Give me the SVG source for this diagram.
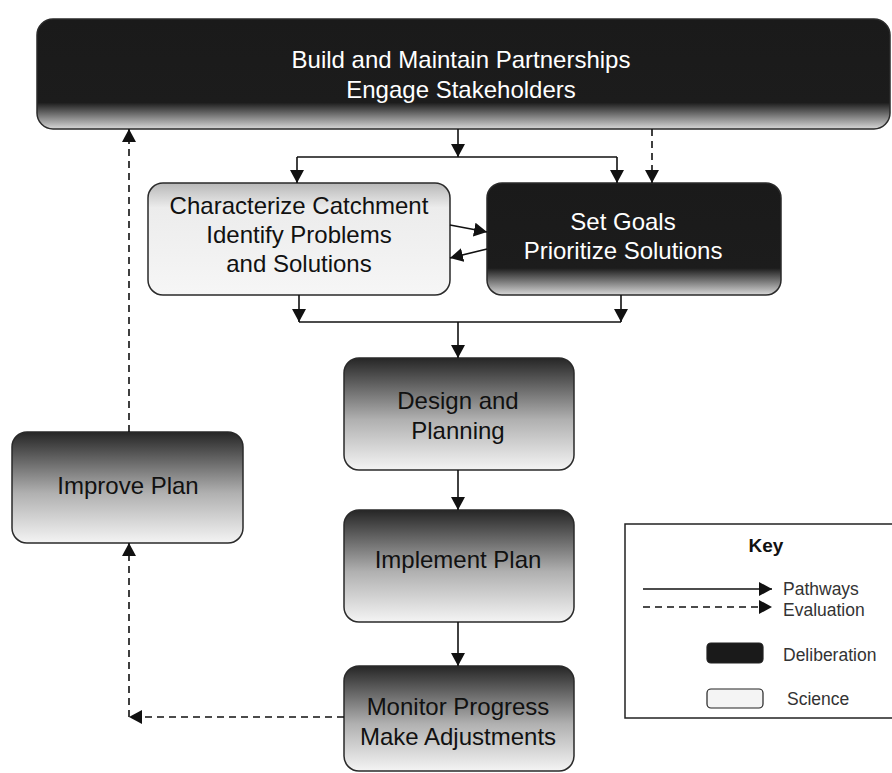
<svg xmlns="http://www.w3.org/2000/svg" width="892" height="773" viewBox="0 0 892 773">
  <defs>
    <!-- deliberation: solid black fading to grey along the bottom edge -->
    <linearGradient id="gDelib" x1="0" y1="0" x2="0" y2="1">
      <stop offset="0" stop-color="#1a1a1a"/>
      <stop offset="0.76" stop-color="#1c1c1c"/>
      <stop offset="1" stop-color="#d8d8d8"/>
    </linearGradient>
    <!-- science: pale fill, slightly shaded at the top -->
    <linearGradient id="gSci" x1="0" y1="0" x2="0" y2="1">
      <stop offset="0" stop-color="#b8b8b8"/>
      <stop offset="0.22" stop-color="#ececec"/>
      <stop offset="1" stop-color="#f6f6f6"/>
    </linearGradient>
    <!-- step boxes: dark top to light bottom -->
    <linearGradient id="gStep" x1="0" y1="0" x2="0" y2="1">
      <stop offset="0" stop-color="#262626"/>
      <stop offset="0.55" stop-color="#b0b0b0"/>
      <stop offset="1" stop-color="#f4f4f4"/>
    </linearGradient>
    <marker id="arrow" viewBox="0 0 13 14" refX="13" refY="7" markerWidth="13" markerHeight="14" markerUnits="userSpaceOnUse" orient="auto">
      <path d="M0,0 L13,7 L0,14 Z" fill="#111"/>
    </marker>
  </defs>
  <style>
    .box { stroke: #2a2a2a; stroke-width: 1.5; }
    .lbl { font-family: "Liberation Sans", Arial, sans-serif; font-size: 24px; text-anchor: middle; }
    .dark { fill: #ffffff; }
    .ink { fill: #111111; }
    .con { fill: none; stroke: #111; stroke-width: 1.6; }
    .dash { stroke-dasharray: 7 5; }
    .key { font-family: "Liberation Sans", Arial, sans-serif; font-size: 17.5px; fill: #333; }
  </style>

  <rect width="892" height="773" fill="#ffffff"/>

  <g id="partnerships">
    <rect class="box" x="37" y="19" width="853" height="110" rx="16" fill="url(#gDelib)"/>
    <text class="lbl dark" x="461" y="68">Build and Maintain Partnerships</text>
    <text class="lbl dark" x="461" y="98">Engage Stakeholders</text>
  </g>

  <g id="characterize">
    <rect class="box" x="148" y="183" width="302" height="112" rx="15" fill="url(#gSci)"/>
    <text class="lbl ink" x="299" y="214">Characterize Catchment</text>
    <text class="lbl ink" x="299" y="243">Identify Problems</text>
    <text class="lbl ink" x="299" y="272">and Solutions</text>
  </g>

  <g id="set-goals">
    <rect class="box" x="487" y="183" width="294" height="112" rx="15" fill="url(#gDelib)"/>
    <text class="lbl dark" x="623" y="230">Set Goals</text>
    <text class="lbl dark" x="623" y="259">Prioritize Solutions</text>
  </g>

  <g id="design">
    <rect class="box" x="344" y="358" width="230" height="112" rx="15" fill="url(#gStep)"/>
    <text class="lbl ink" x="458" y="409">Design and</text>
    <text class="lbl ink" x="458" y="439">Planning</text>
  </g>

  <g id="implement">
    <rect class="box" x="344" y="510" width="230" height="112" rx="15" fill="url(#gStep)"/>
    <text class="lbl ink" x="458" y="568">Implement Plan</text>
  </g>

  <g id="monitor">
    <rect class="box" x="344" y="666" width="230" height="105" rx="15" fill="url(#gStep)"/>
    <text class="lbl ink" x="458" y="715">Monitor Progress</text>
    <text class="lbl ink" x="458" y="745">Make Adjustments</text>
  </g>

  <g id="improve">
    <rect class="box" x="12" y="432" width="231" height="111" rx="15" fill="url(#gStep)"/>
    <text class="lbl ink" x="128" y="494">Improve Plan</text>
  </g>

  <g id="connectors">
    <!-- partnerships split to the two analysis boxes -->
    <line class="con" x1="458" y1="129" x2="458" y2="157" marker-end="url(#arrow)"/>
    <line class="con" x1="297" y1="157" x2="617" y2="157"/>
    <line class="con" x1="297" y1="157" x2="297" y2="183" marker-end="url(#arrow)"/>
    <line class="con" x1="617" y1="157" x2="617" y2="183" marker-end="url(#arrow)"/>
    <line class="con dash" x1="652" y1="129" x2="652" y2="183" marker-end="url(#arrow)"/>
    <!-- exchange between characterize and set goals -->
    <line class="con" x1="450" y1="225" x2="487" y2="232" marker-end="url(#arrow)"/>
    <line class="con" x1="487" y1="249" x2="450" y2="258" marker-end="url(#arrow)"/>
    <!-- merge into design -->
    <line class="con" x1="299" y1="295" x2="299" y2="322" marker-end="url(#arrow)"/>
    <line class="con" x1="621" y1="295" x2="621" y2="322" marker-end="url(#arrow)"/>
    <line class="con" x1="299" y1="322" x2="621" y2="322"/>
    <line class="con" x1="458" y1="322" x2="458" y2="358" marker-end="url(#arrow)"/>
    <!-- main sequence -->
    <line class="con" x1="458" y1="470" x2="458" y2="510" marker-end="url(#arrow)"/>
    <line class="con" x1="458" y1="622" x2="458" y2="666" marker-end="url(#arrow)"/>
    <!-- evaluation loop -->
    <line class="con dash" x1="344" y1="717" x2="129" y2="717" marker-end="url(#arrow)"/>
    <line class="con dash" x1="129" y1="717" x2="129" y2="543" marker-end="url(#arrow)"/>
    <line class="con dash" x1="129" y1="432" x2="129" y2="129" marker-end="url(#arrow)"/>
  </g>

  <g id="legend">
    <rect x="625" y="524" width="280" height="194" fill="#ffffff" stroke="#222" stroke-width="1.5"/>
    <text x="766" y="552" font-family="'Liberation Sans', Arial, sans-serif" font-size="19" font-weight="bold" fill="#111" text-anchor="middle">Key</text>
    <line class="con" x1="643" y1="589" x2="772" y2="589" marker-end="url(#arrow)"/>
    <text class="key" x="783" y="595">Pathways</text>
    <line class="con dash" x1="643" y1="607" x2="772" y2="607" stroke-dasharray="5 4" marker-end="url(#arrow)"/>
    <text class="key" x="783" y="616">Evaluation</text>
    <rect x="707" y="643" width="56" height="20" rx="4" fill="#1a1a1a" stroke="#222" stroke-width="1.2"/>
    <text class="key" x="783" y="661">Deliberation</text>
    <rect x="707" y="689" width="56" height="19" rx="4" fill="#f4f4f4" stroke="#222" stroke-width="1.2"/>
    <text class="key" x="787" y="705">Science</text>
  </g>
</svg>
